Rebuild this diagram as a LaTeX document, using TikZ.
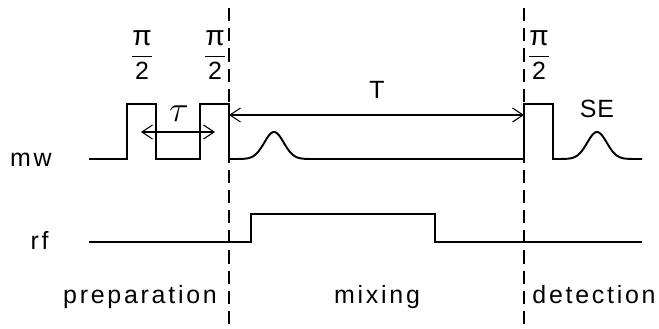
\documentclass[tikz,border=0pt]{standalone}
\usepackage{fontspec}
\setmainfont{Liberation Sans}[LetterSpace=11]
\usetikzlibrary{arrows.meta}

\begin{document}
\begin{tikzpicture}[
    x=0.02cm, y=-0.02cm,
    font=\fontsize{14.2}{17}\selectfont,
    sig/.style={line width=1.1pt, line join=miter},
    arr/.style={{Straight Barb[length=6pt,width=8pt]}-{Straight Barb[length=6pt,width=8pt]}, line width=0.6pt},
    sep/.style={dash pattern=on 7.5pt off 4pt, line width=0.7pt},
    lbl/.style={inner sep=0pt, anchor=mid}
  ]
    \useasboundingbox (0,0) rectangle (659,328);
    % phase boundaries
    \coordinate (b1) at (229,115);
    \coordinate (b2) at (524,115);
    \draw[sep] (229,8) -- (229,328);
    \draw[sep] (524,8) -- (524,328);
    % mw channel
    \node[lbl, anchor=mid east] (mw) at (52,162) {mw};
    \draw[sig] (89,159) -| (127,104) -| (156,159) -| (200,104) -| (229,159)
      -- (238,159) -- plot[domain=238:310, samples=50] (\x, {159-27*exp(-(\x-274)*(\x-274)/190)})
      -- (524,159) -- (524,104) -| (553,159)
      -- (561,159) -- plot[domain=561:633, samples=50] (\x, {159-27*exp(-(\x-597)*(\x-597)/190)})
      -- (642,159);
    \foreach \px/\nm in {142/p1, 215/p2, 539/p3}
      \node[inner sep=0pt] (\nm) at (\px,55) {$\displaystyle\frac{\mbox{\fontsize{16}{18}\selectfont π}}{\mbox{2}}$};
    \coordinate (tauL) at (141,132);
    \coordinate (tauR) at (215,132);
    \draw[arr] (tauL) -- (tauR);
    \node[inner sep=0pt, font=\fontsize{20}{22}\selectfont] (tau) at (179,114) {$\tau$};
    \draw[arr] (b1) -- (b2);
    \node[inner sep=0pt] (T) at (377,90) {T};
    \node[inner sep=0pt] (SE) at (597,109) {\addfontfeature{LetterSpace=3}SE};
    % rf channel
    \node[lbl, anchor=mid east] (rf) at (49,245) {rf};
    \draw[sig] (89,242) -| (251,214) -| (435,242) -- (642,242);
    % phases
    \node[lbl] (prep) at (140,299) {preparation};
    \node[lbl] (mix) at (377,299) {mixing};
    \node[lbl] (det) at (594,299) {detection};
  \end{tikzpicture}
\end{document}
